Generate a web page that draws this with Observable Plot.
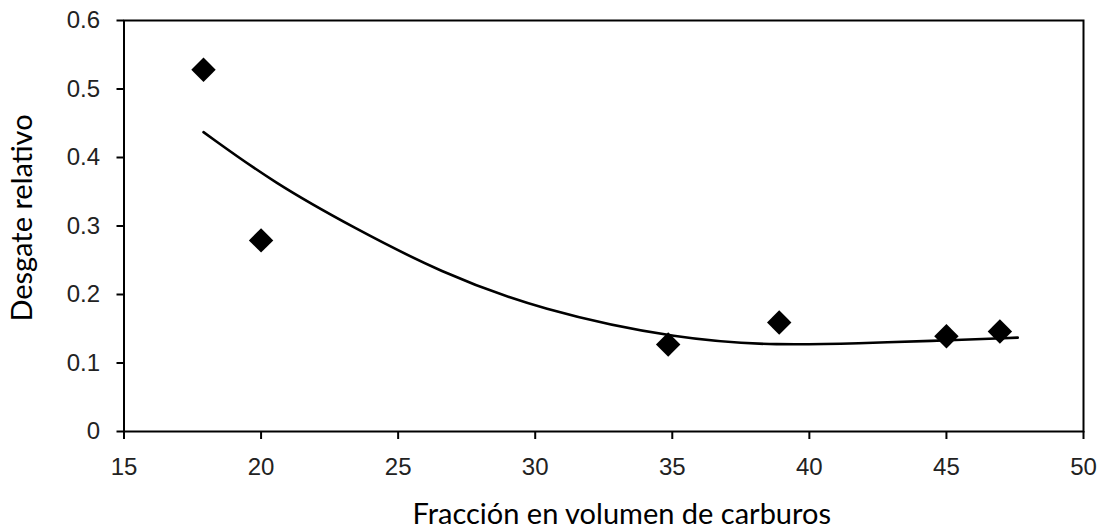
<!DOCTYPE html>
<html>
<head>
<meta charset="utf-8">
<script src="https://cdn.jsdelivr.net/npm/d3@7"></script>
<script src="https://cdn.jsdelivr.net/npm/@observablehq/plot@0.6"></script>
<style>
  html, body { margin: 0; padding: 0; background: #fff; }
  #chart svg { display: block; }
</style>
</head>
<body>
<div id="chart"></div>
<script>
// Measured points
const fraccion = [17.9, 20, 34.85, 38.9, 45, 46.95];
const desgaste = [0.528, 0.279, 0.127, 0.159, 0.139, 0.146];

// Trend line
const trendX = [17.9, 20.5, 23.4, 26.5, 30.2, 35.3, 38.9, 41.9, 44.3, 47.6];
const trendY = [0.437, 0.362, 0.297, 0.233, 0.177, 0.134, 0.1255, 0.129, 0.132, 0.137];

// Ticks and labels
const xTicks = [15, 20, 25, 30, 35, 40, 45, 50];
const yTicks = [0, 0.1, 0.2, 0.3, 0.4, 0.5, 0.6];
const xLabel = "Fracción en volumen de carburos";
const yLabel = "Desgate relativo";

const points = fraccion.map((x, i) => ({x, y: desgaste[i]}));
const trend = trendX.map((x, i) => ({x, y: trendY[i]}));

const tickFont = "'Liberation Sans', Arial, sans-serif";
const labelFont = "Lato, 'Open Sans', sans-serif";

const chart = Plot.plot({
  width: 1103,
  height: 529,
  marginLeft: 123.5,
  marginRight: 20,
  marginTop: 20,
  marginBottom: 98,
  style: {background: "#fff"},
  x: {domain: [15, 50]},
  y: {domain: [0, 0.6]},
  marks: [
    Plot.axisX({
      ticks: xTicks, tickSize: 8, tickPadding: 18, label: null,
      tickFormat: d => String(d),
      fontSize: 24, fontFamily: tickFont, fill: "#222", stroke: "#000", strokeWidth: 2, strokeOpacity: 1
    }),
    Plot.axisY({
      ticks: yTicks, tickSize: 7, tickPadding: 17, label: null,
      tickFormat: d => String(d),
      fontSize: 24, fontFamily: tickFont, fill: "#222", stroke: "#000", strokeWidth: 2, strokeOpacity: 1
    }),
    Plot.frame({stroke: "#000", strokeWidth: 2}),
    Plot.line(trend, {x: "x", y: "y", curve: "basis", stroke: "#000", strokeWidth: 2.6}),
    Plot.dot(points, {x: "x", y: "y", symbol: "diamond2", r: 11, fill: "#000", stroke: "none"}),
    Plot.text([xLabel], {
      text: d => d, frameAnchor: "bottom", textAnchor: "middle", lineAnchor: "middle", dx: 18, dy: 83,
      fontSize: 29, fontFamily: labelFont, fill: "#000"
    }),
    Plot.text([yLabel], {
      text: d => d, frameAnchor: "left", textAnchor: "middle", lineAnchor: "middle", rotate: -90, dx: -101, dy: -8,
      fontSize: 29, fontFamily: labelFont, fill: "#000"
    })
  ]
});
document.getElementById("chart").appendChild(chart);
</script>
</body>
</html>
